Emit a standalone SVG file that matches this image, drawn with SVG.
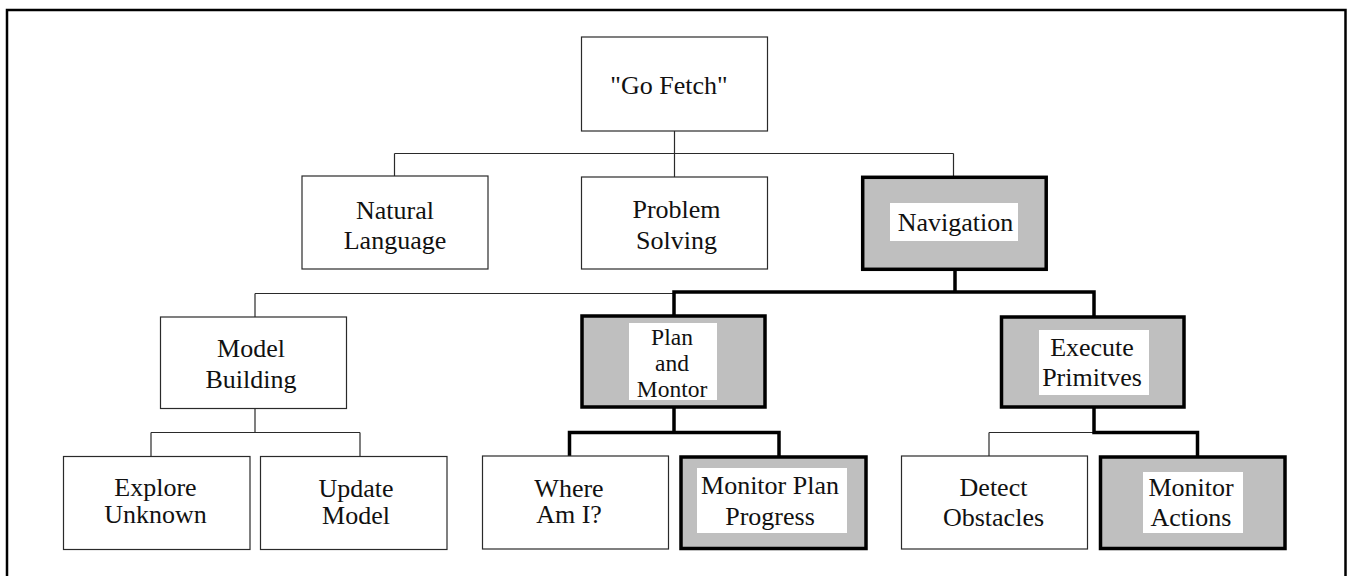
<svg xmlns="http://www.w3.org/2000/svg" width="1348" height="576" viewBox="0 0 1348 576">
  <style>
    .box { fill: #ffffff; stroke: #2a2a2a; stroke-width: 1.2; }
    .hot { fill: #bfbfbf; stroke: #000000; stroke-width: 3.5; }
    .pad { fill: #ffffff; stroke: none; }
    .lbl { font-family: "Liberation Serif", "Times New Roman", serif; font-size: 26px; fill: #111111; text-anchor: middle; }
    .tight { font-size: 23.5px; }
    .thin { fill: none; stroke: #2a2a2a; stroke-width: 1.2; }
    .thick { fill: none; stroke: #000000; stroke-width: 3.5; stroke-linecap: square; }
  </style>

  <rect width="1348" height="576" fill="#ffffff"/>

  <!-- outer frame (open at the bottom) -->
  <path d="M7,580 V10 H1345.5 V580" fill="none" stroke="#000000" stroke-width="2.5"/>

  <!-- connectors -->
  <g id="connectors">
    <path class="thin" d="M674.5,131 V153.5 M394.5,153.5 H953.5 M394.5,153.5 V176 M674.5,153.5 V177 M953.5,153.5 V177"/>
    <path class="thin" d="M255,293.5 H674 M255,293.5 V317"/>
    <path class="thin" d="M255,408 V432.5 M151,432.5 H360 M151,432.5 V456.5 M360,432.5 V456.5"/>
    <path class="thin" d="M989,432.5 H1094 M989,432.5 V456"/>
    <path class="thick" d="M955,271 V292 M674,292 H1094 M674,292 V314 M1094,292 V315"/>
    <path class="thick" d="M674,409 V432.5 M569.5,432.5 H779 M569.5,432.5 V455 M779,432.5 V455"/>
    <path class="thick" d="M1094,409 V432.5 H1197.5 V455"/>
  </g>

  <g id="go-fetch">
    <rect class="box" x="581.5" y="37" width="186" height="94"/>
    <text class="lbl" x="669" y="94">"Go Fetch"</text>
  </g>

  <g id="natural-language">
    <rect class="box" x="302" y="176" width="186" height="93"/>
    <text class="lbl" x="395" y="219">Natural</text>
    <text class="lbl" x="395" y="249">Language</text>
  </g>

  <g id="problem-solving">
    <rect class="box" x="581.5" y="177" width="186" height="92"/>
    <text class="lbl" x="676.5" y="218">Problem</text>
    <text class="lbl" x="676.5" y="249">Solving</text>
  </g>

  <g id="navigation">
    <rect class="hot" x="862.7" y="177.3" width="183.5" height="92"/>
    <rect class="pad" x="890" y="203" width="128" height="38"/>
    <text class="lbl" x="955.5" y="231">Navigation</text>
  </g>

  <g id="model-building">
    <rect class="box" x="160.5" y="317" width="186" height="91.5"/>
    <text class="lbl" x="251" y="357">Model</text>
    <text class="lbl" x="251" y="388">Building</text>
  </g>

  <g id="plan-and-montor">
    <rect class="hot" x="582" y="316" width="183" height="91"/>
    <rect class="pad" x="629" y="323" width="88" height="77"/>
    <!-- three tightly stacked lines -->
    <text class="lbl tight" x="672" y="345">Plan</text>
    <text class="lbl tight" x="672" y="371">and</text>
    <text class="lbl tight" x="672" y="397">Montor</text>
  </g>

  <g id="execute-primitves">
    <rect class="hot" x="1001.5" y="317" width="182.5" height="90"/>
    <rect class="pad" x="1039" y="330" width="110" height="65"/>
    <text class="lbl" x="1092" y="356">Execute</text>
    <text class="lbl" x="1092" y="386">Primitves</text>
  </g>

  <g id="explore-unknown">
    <rect class="box" x="63.5" y="456.5" width="186.5" height="93"/>
    <text class="lbl" x="155.5" y="496">Explore</text>
    <text class="lbl" x="155.5" y="523">Unknown</text>
  </g>

  <g id="update-model">
    <rect class="box" x="260.5" y="456.5" width="186.5" height="93"/>
    <text class="lbl" x="356" y="496.5">Update</text>
    <text class="lbl" x="356" y="523.5">Model</text>
  </g>

  <g id="where-am-i">
    <rect class="box" x="482.5" y="456" width="186" height="93"/>
    <text class="lbl" x="569" y="496.5">Where</text>
    <text class="lbl" x="569" y="523">Am I?</text>
  </g>

  <g id="monitor-plan-progress">
    <rect class="hot" x="681" y="457" width="185" height="91.5"/>
    <rect class="pad" x="697" y="468" width="150" height="65"/>
    <text class="lbl" x="770" y="494">Monitor Plan</text>
    <text class="lbl" x="770" y="525">Progress</text>
  </g>

  <g id="detect-obstacles">
    <rect class="box" x="901.5" y="456" width="186" height="93"/>
    <text class="lbl" x="993.5" y="495.5">Detect</text>
    <text class="lbl" x="993.5" y="526">Obstacles</text>
  </g>

  <g id="monitor-actions">
    <rect class="hot" x="1100.5" y="457" width="184.5" height="91.5"/>
    <rect class="pad" x="1143" y="472" width="100" height="61"/>
    <text class="lbl" x="1191" y="495.5">Monitor</text>
    <text class="lbl" x="1191" y="526">Actions</text>
  </g>
</svg>
